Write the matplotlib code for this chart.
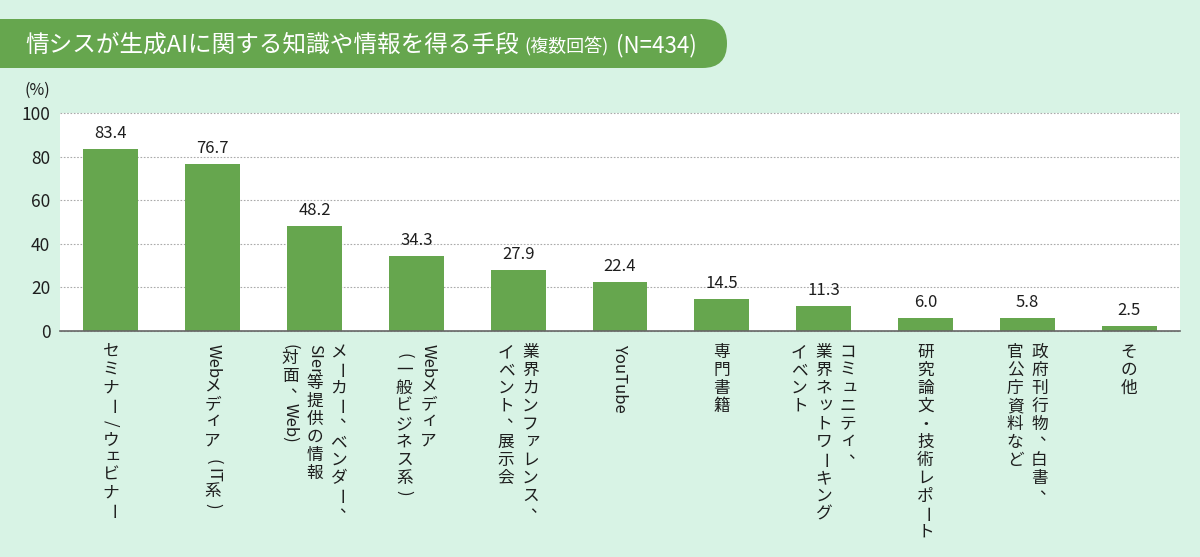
import matplotlib
matplotlib.use("Agg")
import matplotlib.pyplot as plt
import matplotlib.transforms as mtransforms
from matplotlib.patches import FancyBboxPatch
from matplotlib.font_manager import FontProperties

FAMILY = ['Noto Sans CJK JP', 'DejaVu Sans']
plt.rcParams['font.family'] = FAMILY

# data
categories = [
    ["セミナー/ウェビナー"],
    ["Webメディア（IT系）"],
    ["メーカー、ベンダー、", "SIer等提供の情報", "(対面、Web)"],
    ["Webメディア", "（一般ビジネス系）"],
    ["業界カンファレンス、", "イベント、展示会"],
    ["YouTube"],
    ["専門書籍"],
    ["コミュニティ、", "業界ネットワーキング", "イベント"],
    ["研究論文・技術レポート"],
    ["政府刊行物、白書、", "官公庁資料など"],
    ["その他"],
]
values = [83.4, 76.7, 48.2, 34.3, 27.9, 22.4, 14.5, 11.3, 6.0, 5.8, 2.5]
yticks = [0, 20, 40, 60, 80, 100]

BG = '#d8f3e5'
GREEN = '#66a64e'
TXT = '#1e1e1e'

W, H = 1200, 557
fig = plt.figure(figsize=(W / 100, H / 100), dpi=100)
fig.patch.set_facecolor(BG)

# banner layer (pixel coords)
bax = fig.add_axes([0, 0, 1, 1])
bax.set_xlim(0, W)
bax.set_ylim(0, H)
bax.axis('off')
bax.add_patch(FancyBboxPatch((-60, H - 68), 787, 49,
                             boxstyle='round,pad=0,rounding_size=24.5',
                             fc=GREEN, ec='none'))

ax = fig.add_axes([60 / W, 226 / H, 1120 / W, 218 / H])
ax.set_facecolor('white')
x = list(range(len(values)))
bars = ax.bar(x, values, width=0.54, color=GREEN, zorder=2)
ax.set_xlim(-0.5, len(values) - 0.5)
ax.set_ylim(0, 100)
ax.set_yticks(yticks)
ax.set_xticks([])
ax.tick_params(axis='y', length=0, pad=7, labelsize=12.5, labelcolor=TXT)
ax.grid(axis='y', color='#aaaaaa', linestyle=(0, (1.5, 1.5)), linewidth=0.8, zorder=1)
for gl in ax.yaxis.get_gridlines():
    gl.set_clip_on(False)
for s in ['top', 'right', 'left']:
    ax.spines[s].set_visible(False)
ax.spines['bottom'].set_color('#666666')
ax.spines['bottom'].set_linewidth(1.2)
ax.spines['bottom'].set_zorder(3)

ax.bar_label(bars, labels=[f'{v:.1f}' for v in values], padding=5,
             fontsize=12, color=TXT)

fig.text(37 / W, 1 - 90 / H, '(%)', fontsize=11.5, color=TXT,
         ha='center', va='center')

renderer = fig.canvas.get_renderer()

# title
title_parts = [("情シスが生成AIに関する知識や情報を得る手段", 17, 0),
               ("(複数回答)", 13, 6),
               ("(N=434)", 16, 7)]
tx = 25
for s, size, gap in title_parts:
    t = bax.text(tx + gap, H - 52, s, fontsize=size, color='white',
                 ha='left', va='baseline')
    tx = t.get_window_extent(renderer).x1

# vertical category labels
ROT = set('ー～―')
PUNCT = set('、。')
SMALL = set('ァィゥェォッャュョ')
OPEN, CLOSE = '（', '）'


def latin_len(s, size):
    fp = FontProperties(family=FAMILY, size=size)
    w, h, d = renderer.get_text_width_height_descent(s, fp, ismath=False)
    return w * 72 / fig.dpi


def tokens(line):
    out, buf = [], ''
    for ch in line:
        if ord(ch) < 128 and ch != '/':
            buf += ch
        else:
            if buf:
                out.append(buf)
                buf = ''
            out.append(ch)
    if buf:
        out.append(buf)
    return out


base = ax.get_xaxis_transform()


def vtext(xc, lines, size=12, adv=1.08, colsp=17.5, top=-9):
    n = len(lines)
    for j, line in enumerate(lines):
        dx = ((n - 1) / 2 - j) * colsp
        y = top
        for tok in tokens(line):
            ox = oy = 0
            s = tok
            if tok == '/':
                L = 0.9 * size
                rot = -90
            elif tok in (OPEN, CLOSE):
                L = adv * size
                rot = -90
                s = '(' if tok == OPEN else ')'
                oy = -0.22 * size if tok == OPEN else 0.22 * size
            elif ord(tok[0]) < 128:
                L = latin_len(tok, size)
                rot = -90
            else:
                L = adv * size
                rot = -90 if tok in ROT else 0
                if tok in PUNCT:
                    ox, oy = 0.5 * size, 0.4 * size
                elif tok in SMALL:
                    ox, oy = 0.1 * size, 0.12 * size
            cy = y - L / 2
            y -= L
            tr = mtransforms.offset_copy(base, fig=fig, x=dx + ox, y=cy + oy,
                                         units='points')
            ax.text(xc, 0, s, transform=tr, rotation=rot, ha='center',
                    va='center', fontsize=size, color=TXT, clip_on=False)


for i, lines in enumerate(categories):
    vtext(x[i], lines)

fig.savefig('out.png', dpi=100, facecolor=BG)
